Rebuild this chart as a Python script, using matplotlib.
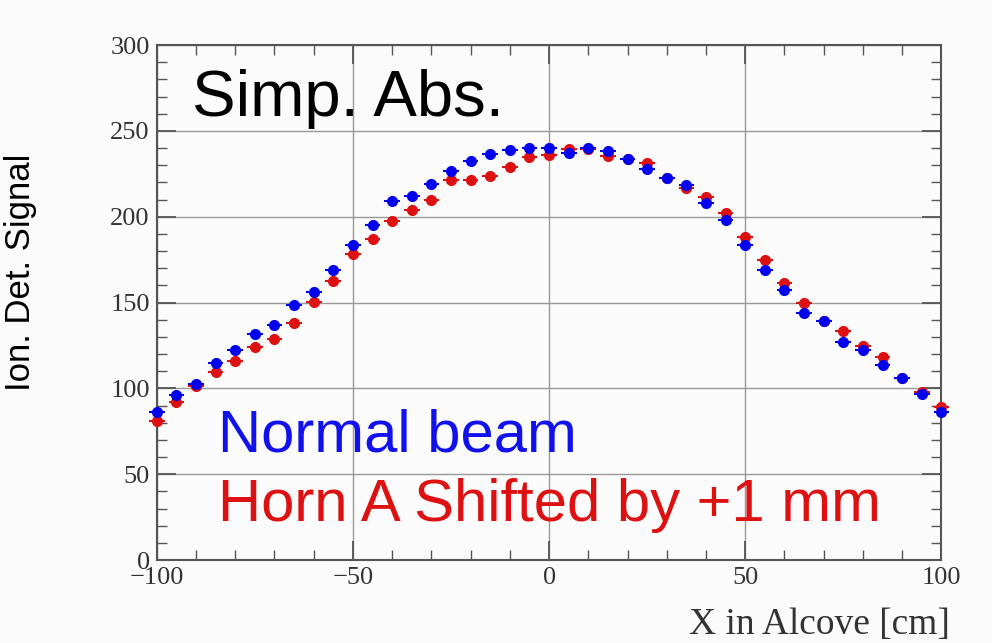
import numpy as np
import matplotlib
matplotlib.use("Agg")
import matplotlib.pyplot as plt
from matplotlib.ticker import MultipleLocator

# DATA
x_cm = [-100, -95, -90, -85, -80, -75, -70, -65, -60, -55, -50,
        -45, -40, -35, -30, -25, -20, -15, -10, -5, 0,
        5, 10, 15, 20, 25, 30, 35, 40, 45, 50,
        55, 60, 65, 70, 75, 80, 85, 90, 95, 100]

normal_beam = [86.2, 96.2, 102.5, 115.0, 122.5, 131.4, 137.1, 148.5, 156.4, 169.2, 183.3,
               195.2, 209.3, 212.2, 219.3, 226.4, 232.7, 236.6, 239.1, 240.0, 240.0,
               237.0, 240.0, 238.5, 233.7, 227.9, 222.7, 218.3, 207.7, 198.1, 183.7,
               169.2, 157.3, 143.9, 139.0, 126.9, 122.1, 113.5, 106.2, 96.5, 86.0]

horn_shifted = [81.2, 92.3, 101.5, 109.6, 116.0, 124.0, 128.5, 137.9, 150.4, 162.5, 178.3,
                187.0, 197.7, 203.9, 210.0, 221.6, 221.6, 223.7, 228.9, 234.7, 236.2,
                239.5, 239.5, 235.2, 233.7, 231.2, 222.7, 217.0, 211.5, 202.0, 187.9,
                175.0, 161.5, 150.0, 139.0, 133.7, 124.6, 118.3, 106.0, 97.7, 88.9]

x_err = 2.0
y_err = 2.5

def main():

    fig = plt.figure(figsize=(9.92, 6.43), dpi=100)
    fig.patch.set_facecolor('#fbfbfb')
    ax = fig.add_axes([0.158, 0.129, 0.791, 0.801])
    ax.set_facecolor('#fbfbfb')

    for ys, col, z in [(horn_shifted, '#dd1111', 3), (normal_beam, '#0000ee', 4)]:
        cont = ax.errorbar(x_cm, ys, xerr=x_err, yerr=y_err,
                           fmt='o', color=col, markersize=7, elinewidth=1.5,
                           capsize=0, zorder=z)
        for art in cont.get_children():
            art.set_clip_on(False)

    ax.set_xlim(-100, 100)
    ax.set_ylim(0, 300)

    ax.xaxis.set_major_locator(MultipleLocator(50))
    ax.xaxis.set_minor_locator(MultipleLocator(10))
    ax.yaxis.set_major_locator(MultipleLocator(50))
    ax.yaxis.set_minor_locator(MultipleLocator(10))

    ax.tick_params(which='both', direction='in', top=True, right=True,
                   color='#555555')
    ax.tick_params(which='major', length=14, width=1.3)
    ax.tick_params(which='minor', length=7, width=1.0)
    ax.tick_params(axis='both', labelsize=19, labelcolor='#333333')
    ax.tick_params(axis='x', pad=5)
    ax.tick_params(axis='y', pad=5)
    for lab in ax.get_xticklabels() + ax.get_yticklabels():
        lab.set_family('Liberation Serif')

    ax.grid(True, which='major', color='#999999', linewidth=1.0)
    ax.set_axisbelow(True)
    for s in ax.spines.values():
        s.set_color('#555555')
        s.set_linewidth(1.5)

    ax.set_ylabel('Ion. Det. Signal', fontsize=25, family='Liberation Sans')
    ax.yaxis.set_label_coords(-0.152, 0.558)
    ax.set_xlabel('X in Alcove [cm]', fontsize=27, family='Liberation Serif',
                  color='#333333')
    ax.xaxis.set_label_coords(1.011, -0.093)
    ax.xaxis.label.set_horizontalalignment('right')

    ax.text(0.045, 0.895, 'Simp. Abs.', transform=ax.transAxes, fontsize=47,
            family='Liberation Sans', color='black', va='center', ha='left')
    ax.text(0.078, 0.24, 'Normal beam', transform=ax.transAxes, fontsize=43,
            family='Liberation Sans', color='#1111ee', va='center', ha='left')
    ax.text(0.078, 0.105, 'Horn A Shifted by +1 mm', transform=ax.transAxes,
            fontsize=43, family='Liberation Sans', color='#dd1111',
            va='center', ha='left')

    plt.savefig('out.png', dpi=100, facecolor=fig.get_facecolor())
    plt.close()


if __name__ == "__main__":
    main()
